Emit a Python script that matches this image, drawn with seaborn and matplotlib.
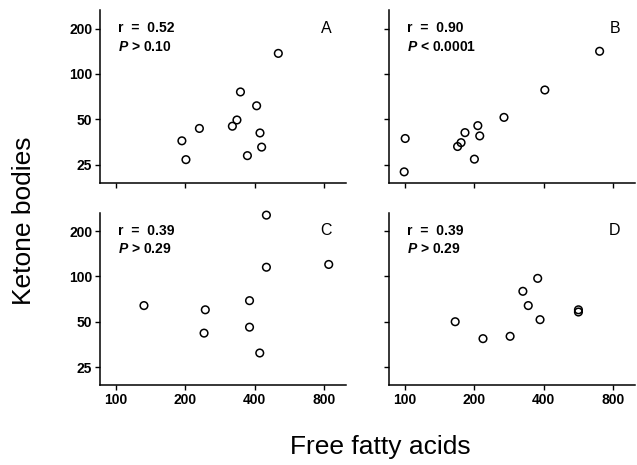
import matplotlib
matplotlib.use("Agg")
import matplotlib.pyplot as plt
import matplotlib.ticker as ticker
import pandas as pd
import seaborn as sns

# values (free fatty acids vs ketone bodies)
a_ffa = [193, 201, 230, 320, 335, 347, 372, 408, 422, 429, 507]
a_kb = [36, 27, 43.5, 45, 49.5, 76, 28.7, 61.5, 40.6, 32.7, 137]
b_ffa = [100, 99, 169, 175, 182, 200, 207, 211, 269, 405, 701]
b_kb = [37.3, 22.4, 33, 35, 40.8, 27.2, 45.4, 38.8, 51.5, 78.3, 141.5]
c_ffa = [132, 244, 241, 380, 380, 421, 450, 450, 840]
c_kb = [64, 60, 42, 69, 46, 31, 255, 115, 120]
d_ffa = [165, 218, 286, 325, 343, 377, 386, 567, 567]
d_kb = [50, 38.6, 40, 79.6, 64, 97, 51.6, 60, 58]

panels = ['A', 'B', 'C', 'D']
r_texts = ['r  =  0.52', 'r  =  0.90', 'r  =  0.39', 'r  =  0.39']
p_texts = ['$P$ > 0.10', '$P$ < 0.0001', '$P$ > 0.29', '$P$ > 0.29']
x_ticks = [100, 200, 400, 800]
y_ticks = [25, 50, 100, 200]

df = pd.concat([
    pd.DataFrame({'panel': p, 'ffa': x, 'kb': y})
    for p, x, y in zip(panels, [a_ffa, b_ffa, c_ffa, d_ffa], [a_kb, b_kb, c_kb, d_kb])
])

sns.set_style("ticks", {'axes.edgecolor': 'black', 'text.color': 'black',
                        'xtick.color': 'black', 'ytick.color': 'black',
                        'axes.labelcolor': 'black'})
plt.rcParams['font.family'] = ['Liberation Sans', 'DejaVu Sans']
plt.rcParams['mathtext.fontset'] = 'custom'
plt.rcParams['mathtext.it'] = 'Liberation Sans:italic:bold'
plt.rcParams['mathtext.rm'] = 'Liberation Sans:bold'

fig, axs = plt.subplots(2, 2, figsize=(6.37, 4.65), dpi=100, sharex=True, sharey=True)
fig.subplots_adjust(left=0.157, right=0.997, top=0.978, bottom=0.172, wspace=0.174, hspace=0.174)

for ax, panel, rt, pt in zip(axs.flat, panels, r_texts, p_texts):
    sub = df[df['panel'] == panel]
    sns.scatterplot(data=sub, x='ffa', y='kb', ax=ax, marker='o', s=30,
                    facecolor='none', edgecolor='black', linewidth=1.1, clip_on=False)
    ax.set_xscale('log')
    ax.set_yscale('log')
    ax.set_xlim(85, 1000)
    ax.set_ylim(19, 265)
    ax.set_xticks(x_ticks)
    ax.set_yticks(y_ticks)
    ax.xaxis.set_minor_locator(ticker.NullLocator())
    ax.yaxis.set_minor_locator(ticker.NullLocator())
    ax.xaxis.set_major_formatter(ticker.FuncFormatter(lambda v, p: f"{v:g}"))
    ax.yaxis.set_major_formatter(ticker.FuncFormatter(lambda v, p: f"{v:g}"))
    ax.set_xlabel("")
    ax.set_ylabel("")
    ax.tick_params(direction='out', length=3.5, width=1, labelsize=10, pad=2, colors='black')
    for lab in ax.get_xticklabels() + ax.get_yticklabels():
        lab.set_fontweight('bold')
    sns.despine(ax=ax)
    for s in ['left', 'bottom']:
        ax.spines[s].set_linewidth(1.1)
        ax.spines[s].set_color('black')

    ax.text(0.075, 0.935, rt, transform=ax.transAxes, ha='left', va='top',
            fontsize=10, fontweight='bold', color='black')
    ax.text(0.075, 0.83, pt, transform=ax.transAxes, ha='left', va='top',
            fontsize=10, fontweight='bold', color='black')
    ax.text(0.94, 0.94, panel, transform=ax.transAxes, ha='right', va='top',
            fontsize=11.5, color='black')

fig.text(380 / 637, 1 - 447 / 465, "Free fatty acids", ha='center', va='center',
         fontsize=19, color='black')
fig.text(24.5 / 637, 1 - 221 / 465, "Ketone bodies", ha='center', va='center',
         rotation=90, fontsize=19, color='black')

plt.savefig('out.png', dpi=100)
